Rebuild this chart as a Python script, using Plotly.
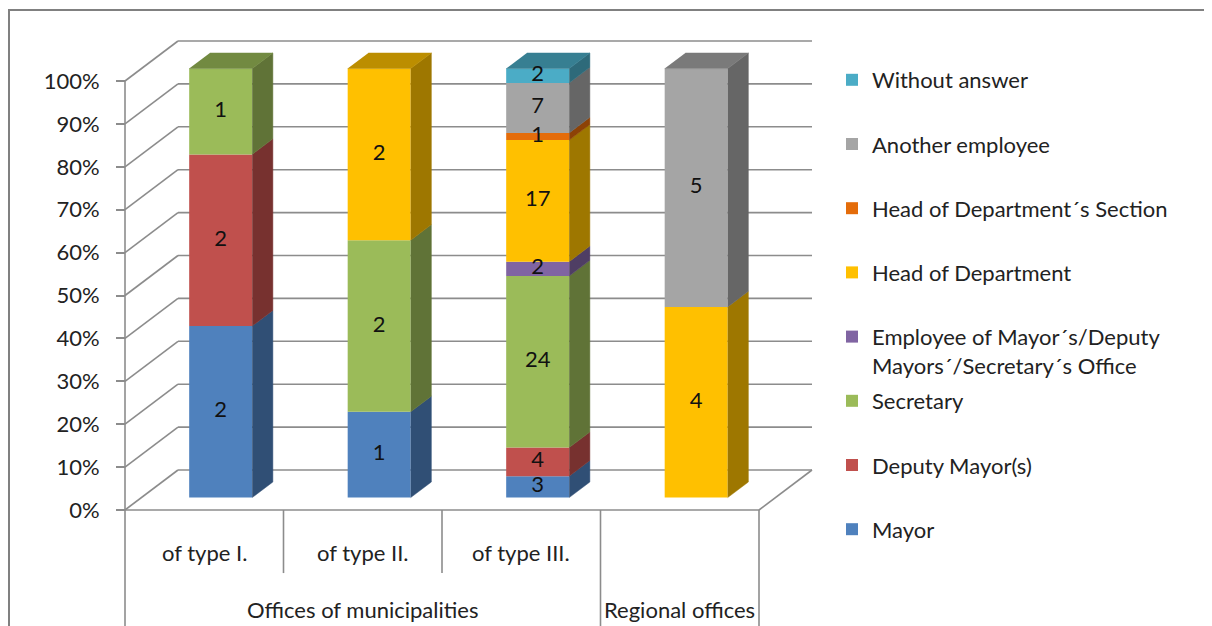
import plotly.graph_objects as go

# ---------------- data ----------------
categories = ["of type I.", "of type II.", "of type III.", ""]
groups = ["Offices of municipalities", "Regional offices"]
group_members = [[0, 1, 2], [3]]

series_names = [
    "Mayor",
    "Deputy Mayor(s)",
    "Secretary",
    "Employee of Mayor´s/Deputy<br>Mayors´/Secretary´s Office",
    "Head of Department",
    "Head of Department´s Section",
    "Another employee",
    "Without answer",
]
mayor = [2, 1, 3, 0]
deputy_mayor = [2, 0, 4, 0]
secretary = [1, 2, 24, 0]
employee_office = [0, 0, 2, 0]
head_department = [0, 2, 17, 4]
head_section = [0, 0, 1, 0]
another_employee = [0, 0, 7, 5]
without_answer = [0, 0, 2, 0]

y_tick_values = [0, 10, 20, 30, 40, 50, 60, 70, 80, 90, 100]
y_tick_labels = ["0%", "10%", "20%", "30%", "40%", "50%", "60%", "70%", "80%", "90%", "100%"]

front_colors = ["#4F81BD", "#C0504D", "#9BBB59", "#8064A2", "#FFC000", "#E46C0A", "#A5A5A5", "#4BACC6"]

series_values = [mayor, deputy_mayor, secretary, employee_office,
                 head_department, head_section, another_employee, without_answer]

# ---------------- style / geometry ----------------
OFF = 8                      # page body margin
W, H = 1212 - OFF, 626 - OFF
FONT = "Lato"
FS = 22
TXT = "#222222"
LINE = "#8C8C8C"

PX_PER_CAT = 158.5
PX_PER_PCT = 4.29
X_LEFT_PX, Y_ZERO_PX = 125 - OFF, 510 - OFF
XMIN = -0.5 - X_LEFT_PX / PX_PER_CAT
XMAX = XMIN + W / PX_PER_CAT
YMAX = 100 + (Y_ZERO_PX - 100 * PX_PER_PCT) / PX_PER_PCT
YMIN = YMAX - H / PX_PER_PCT

DXC = 53 / PX_PER_CAT      # full depth offset in category units
DYP = 40 / PX_PER_PCT      # full depth offset in percent units
Z_F, Z_B = 0.31, 0.70      # bar front/back depth
BAR_W = 63 / PX_PER_CAT


def shade(hexc, f):
    h = hexc.lstrip("#")
    r, g, b = (int(h[i:i + 2], 16) for i in (0, 2, 4))
    return "#%02x%02x%02x" % (int(r * f), int(g * f), int(b * f))


def P(x, y, z):
    return x + z * DXC, y + z * DYP


n_cat = len(categories)
n_ser = len(series_names)
totals = [sum(s[i] for s in series_values) for i in range(n_cat)]
pct = [[100.0 * s[i] / totals[i] for i in range(n_cat)] for s in series_values]
cum = []
run = [0.0] * n_cat
for p in pct:
    cum.append(run[:])
    run = [run[i] + p[i] for i in range(n_cat)]

fig = go.Figure()

# front faces (real bars)
for k, name in enumerate(series_names):
    label = name if "<br>" in name else name + "<br> "
    fig.add_trace(go.Bar(
        x=[i + Z_F * DXC for i in range(n_cat)],
        y=pct[k],
        base=[cum[k][i] + Z_F * DYP for i in range(n_cat)],
        width=BAR_W,
        marker=dict(color=front_colors[k], line=dict(width=0)),
        name=label,
        legendgroup="g%d" % k,
        legendrank=100 + (n_ser - k),
        hoverinfo="skip",
    ))

# side faces
for k in range(n_ser):
    xs, ys = [], []
    for i in range(n_cat):
        if series_values[k][i] == 0:
            continue
        b = cum[k][i]
        t = b + pct[k][i]
        xr = i + BAR_W / 2
        for (yy, zz) in [(b, Z_F), (b, Z_B), (t, Z_B), (t, Z_F)]:
            px, py = P(xr, yy, zz)
            xs.append(px)
            ys.append(py)
        xs.append(None)
        ys.append(None)
    c = shade(front_colors[k], 0.62)
    fig.add_trace(go.Scatter(x=xs, y=ys, mode="lines", fill="toself", fillcolor=c,
                             line=dict(color=c, width=0.5), showlegend=False, hoverinfo="skip"))

# top faces
for i in range(n_cat):
    top_k = max(k for k in range(n_ser) if series_values[k][i] > 0)
    pts = [P(i - BAR_W / 2, 100, Z_F), P(i + BAR_W / 2, 100, Z_F),
           P(i + BAR_W / 2, 100, Z_B), P(i - BAR_W / 2, 100, Z_B)]
    c = shade(front_colors[top_k], 0.74)
    fig.add_trace(go.Scatter(x=[p[0] for p in pts], y=[p[1] for p in pts], mode="lines",
                             fill="toself", fillcolor=c, line=dict(color=c, width=0.5),
                             showlegend=False, hoverinfo="skip"))

# data labels
lx, ly, lt = [], [], []
for k in range(n_ser):
    for i in range(n_cat):
        v = series_values[k][i]
        if v == 0:
            continue
        px, py = P(i, cum[k][i] + pct[k][i] / 2, Z_F)
        lx.append(px)
        ly.append(py)
        lt.append(str(v))
fig.add_trace(go.Scatter(x=lx, y=ly, text=lt, mode="text", showlegend=False, hoverinfo="skip",
                         textfont=dict(family=FONT, size=FS, color="#111111")))

# ---------------- walls, floor, dividers ----------------
shapes = []


def seg(p0, p1, layer="below"):
    shapes.append(dict(type="line", xref="x", yref="y", x0=p0[0], y0=p0[1], x1=p1[0], y1=p1[1],
                       line=dict(color=LINE, width=1.6), layer=layer))


x_lo, x_hi = -0.5, n_cat - 0.5
for t in y_tick_values:
    seg(P(x_lo, t, 0), P(x_lo, t, 1))
    seg(P(x_lo, t, 1), P(x_hi, t, 1))
# floor
seg(P(x_lo, 0, 0), P(x_hi, 0, 0))
seg(P(x_hi, 0, 0), P(x_hi, 0, 1))
# front left vertical axis line down through the label area
seg((x_lo, 100), (x_lo, YMIN))
# category dividers
inner_bottom = -14.7
for j in range(1, n_cat + 1):
    xb = j - 0.5
    boundary_of_group = any(xb == m[-1] + 0.5 for m in group_members)
    seg((xb, 0), (xb, YMIN if boundary_of_group else inner_bottom))

# outer frame
shapes.append(dict(type="rect", xref="paper", yref="paper", x0=(9 - OFF) / W, x1=(1210 - OFF) / W,
                   y0=-0.05, y1=1 - (10 - OFF) / H, line=dict(color="#808080", width=2), layer="below"))

annotations = []
for i, c in enumerate(categories):
    if c:
        annotations.append(dict(x=i, y=-10.0, xref="x", yref="y", text=c, showarrow=False,
                                font=dict(family=FONT, size=FS, color=TXT)))
for g, members in zip(groups, group_members):
    annotations.append(dict(x=sum(members) / len(members), y=-23.2, xref="x", yref="y", text=g,
                            showarrow=False, font=dict(family=FONT, size=FS, color=TXT)))

fig.update_layout(
    width=W, height=H, autosize=False,
    margin=dict(l=0, r=0, t=0, b=0),
    paper_bgcolor="white", plot_bgcolor="white",
    barmode="overlay",
    showlegend=True,
    legend=dict(x=(832 - OFF) / W, xanchor="left", y=1 - (59 - OFF) / H, yanchor="top",
                traceorder="grouped", tracegroupgap=4, valign="top",
                font=dict(family=FONT, size=FS, color=TXT), bgcolor="rgba(0,0,0,0)"),
    xaxis=dict(range=[XMIN, XMAX], visible=False, fixedrange=True),
    yaxis=dict(range=[YMIN, YMAX], anchor="free", position=X_LEFT_PX / W,
               tickvals=y_tick_values, ticktext=y_tick_labels,
               ticks="outside", ticklen=9, tickwidth=1.6, tickcolor=LINE,
               ticklabelstandoff=12,
               showgrid=False, zeroline=False, showline=False, fixedrange=True,
               tickfont=dict(family=FONT, size=FS, color=TXT)),
    shapes=shapes,
    annotations=annotations,
)

fig.write_html("out.html")
